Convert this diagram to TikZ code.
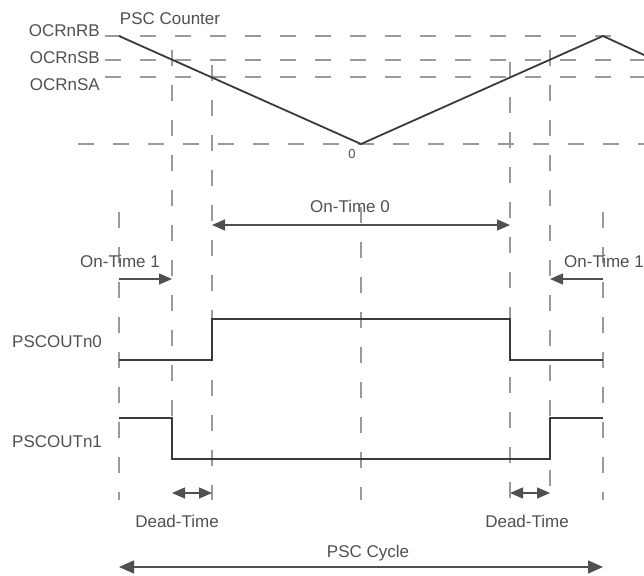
\documentclass[tikz,border=0pt]{standalone}
\usepackage{fontspec}
\setmainfont{Liberation Sans}
\usetikzlibrary{arrows.meta}
\definecolor{sig}{HTML}{3A3A3A}
\definecolor{gridc}{HTML}{9A9A9A}
\definecolor{txt}{HTML}{505050}
\definecolor{arr}{HTML}{505050}
\begin{document}
\begin{tikzpicture}[x=1pt,y=-1pt,
  lbl/.style={font=\fontsize{17}{20}\selectfont, text=txt, inner sep=0pt},
  guide/.style={draw=gridc, line width=1.3pt, dash pattern=on 16pt off 19pt},
  wave/.style={draw=sig, line width=1.8pt, line join=miter},
  meas/.style={draw=arr, line width=1.4pt},
  tipR/.style={-{Triangle[length=13pt,width=11pt]}},
  tipB/.style={{Triangle[length=13pt,width=11pt]}-{Triangle[length=13pt,width=11pt]}},
  tipC/.style={{Triangle[length=15pt,width=13pt]}-{Triangle[length=15pt,width=13pt]}}
]
\useasboundingbox (0,0) rectangle (644,575);

% counter level guides
\coordinate (rbL) at (105,36);  \coordinate (rbR) at (617,36);
\coordinate (sbL) at (105,60);  \coordinate (sbR) at (644,60);
\coordinate (saL) at (105,77);  \coordinate (saR) at (644,77);
\coordinate (zL) at (78,144);   \coordinate (zR) at (644,144);
\draw[guide] (rbL) -- (rbR);
\draw[guide] (sbL) -- (sbR);
\draw[guide] (saL) -- (saR);
\draw[guide] (zL) -- (zR);

% vertical guides
\coordinate (v1t) at (119,212); \coordinate (v1b) at (119,500);
\coordinate (v2t) at (172,50);  \coordinate (v2b) at (172,418);
\coordinate (v3t) at (212,65);  \coordinate (v3b) at (212,500);
\coordinate (v4t) at (361,207); \coordinate (v4b) at (361,500);
\coordinate (v5t) at (510,62);  \coordinate (v5b) at (510,500);
\coordinate (v6t) at (550,50);  \coordinate (v6b) at (550,495);
\coordinate (v7t) at (603,212); \coordinate (v7b) at (603,500);
\foreach \i in {1,...,7} { \draw[guide] (v\i t) -- (v\i b); }

% counter ramp
\coordinate (c0) at (119,36);
\coordinate (c1) at (361,144);
\coordinate (c2) at (603,36);
\coordinate (c3) at (644,55);
\draw[wave] (c0) -- (c1) -- (c2) -- (c3);

% PSCOUTn0
\coordinate (a0) at (119,360); \coordinate (a1) at (212,360);
\coordinate (a2) at (212,319); \coordinate (a3) at (510,319);
\coordinate (a4) at (510,360); \coordinate (a5) at (603,360);
\draw[wave] (a0) -- (a1) -- (a2) -- (a3) -- (a4) -- (a5);

% PSCOUTn1
\coordinate (b0) at (119,418); \coordinate (b1) at (172,418);
\coordinate (b2) at (172,459); \coordinate (b3) at (550,459);
\coordinate (b4) at (550,418); \coordinate (b5) at (603,418);
\draw[wave] (b0) -- (b1) -- (b2) -- (b3) -- (b4) -- (b5);

% measurement arrows
\coordinate (o0L) at (212,225); \coordinate (o0R) at (510,225);
\draw[meas,tipB] (o0L) -- (o0R);
\coordinate (o1La) at (119,279); \coordinate (o1Lb) at (172,279);
\draw[meas,tipR] (o1La) -- (o1Lb);
\coordinate (o1Ra) at (603,279); \coordinate (o1Rb) at (550,279);
\draw[meas,tipR] (o1Ra) -- (o1Rb);
\coordinate (d1a) at (172,493); \coordinate (d1b) at (212,493);
\draw[meas,tipB] (d1a) -- (d1b);
\coordinate (d2a) at (510,493); \coordinate (d2b) at (550,493);
\draw[meas,tipB] (d2a) -- (d2b);
\coordinate (pcL) at (119,567); \coordinate (pcR) at (603,567);
\draw[meas,tipC] (pcL) -- (pcR);

% labels
\node[lbl,anchor=base] (tcnt) at (170,25) {PSC Counter};
\node[lbl,anchor=base east] (trb) at (100,37) {OCRnRB};
\node[lbl,anchor=base east] (tsb) at (100,64) {OCRnSB};
\node[lbl,anchor=base east] (tsa) at (100,91) {OCRnSA};
\node[lbl,anchor=base,font=\fontsize{13}{15}\selectfont] (tzero) at (352,158) {0};
\node[lbl,anchor=base] (ton0) at (350,212) {On-Time 0};
\node[lbl,anchor=base] (ton1a) at (120,267) {On-Time 1};
\node[lbl,anchor=base west] (ton1b) at (564,267) {On-Time 1};
\node[lbl,anchor=base west] (tp0) at (12,347) {PSCOUTn0};
\node[lbl,anchor=base west] (tp1) at (12,447) {PSCOUTn1};
\node[lbl,anchor=base] (tdt1) at (177,527) {Dead-Time};
\node[lbl,anchor=base] (tdt2) at (527,527) {Dead-Time};
\node[lbl,anchor=base] (tcyc) at (368,557) {PSC Cycle};
\end{tikzpicture}
\end{document}
